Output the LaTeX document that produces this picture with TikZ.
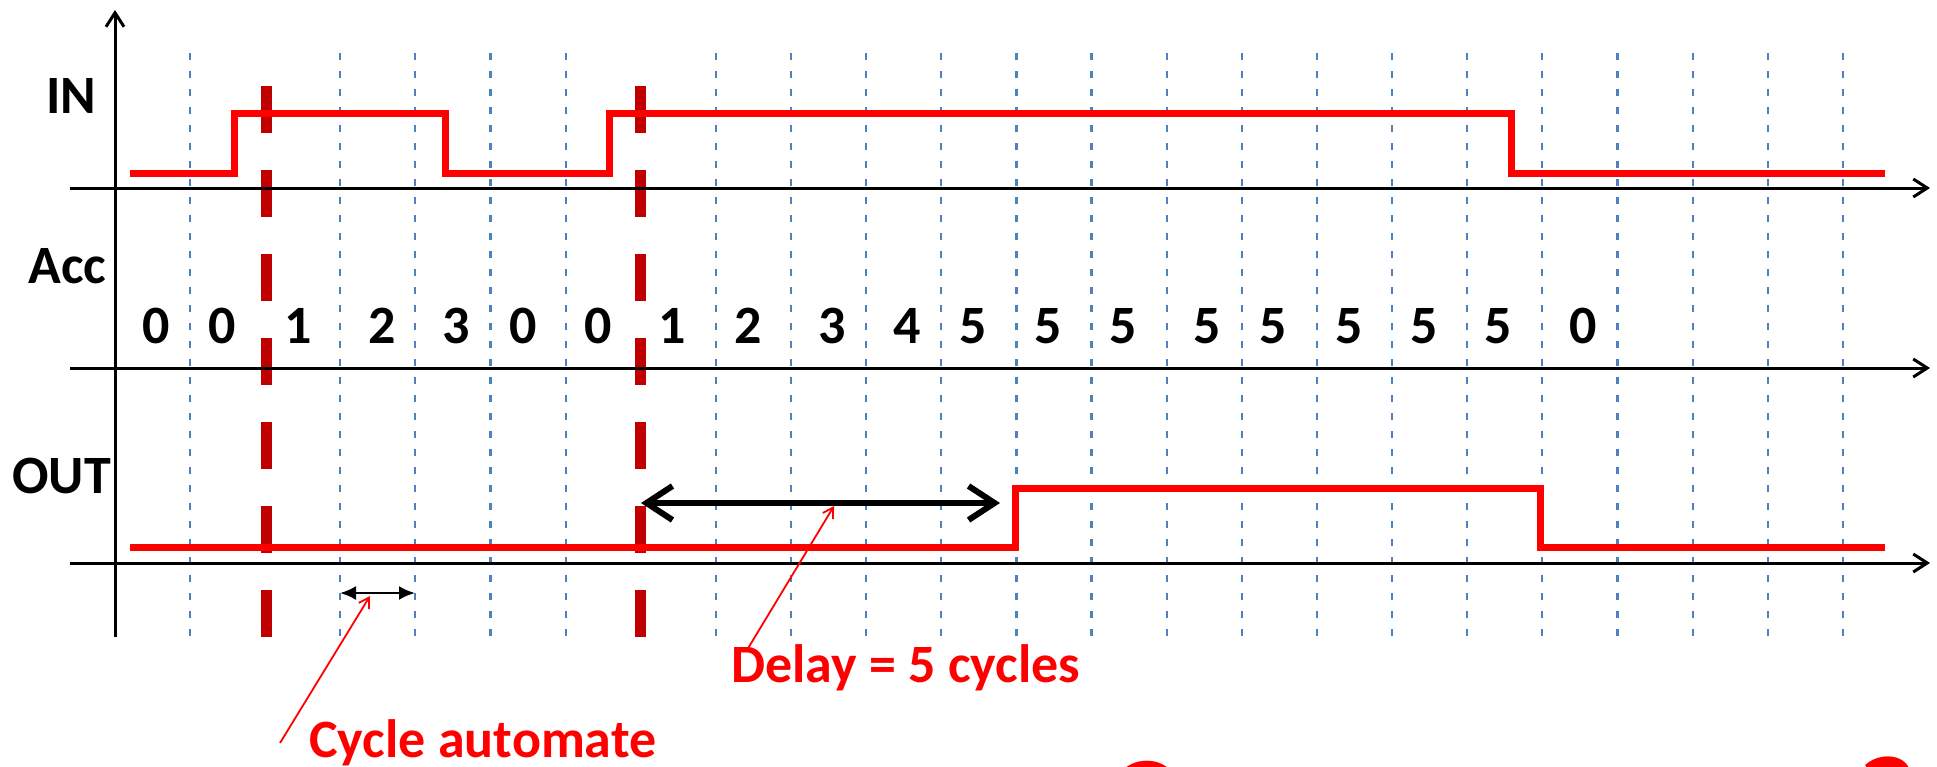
\documentclass[tikz,border=0pt]{standalone}
\usepackage{fontspec}
\setmainfont{Carlito}
\usetikzlibrary{arrows.meta}
\definecolor{sigred}{HTML}{FF0000}
\definecolor{cutred}{HTML}{C00000}
\definecolor{gridblue}{HTML}{4F81BD}
\tikzset{
  axis/.style={black, line width=1.5pt, -{Straight Barb[length=7pt,width=9pt]}},
  gridline/.style={gridblue, line width=1.1pt, dash pattern=on 3.5pt off 5.5pt},
  cutline/.style={cutred, line width=5.5pt, dash pattern=on 23.5pt off 18.5pt},
  signal/.style={sigred, line width=3.5pt},
  lbl/.style={inner sep=0pt, font=\fontsize{27}{30}\selectfont\bfseries},
  note/.style={lbl, text=sigred},
  callout/.style={sigred, line width=0.9pt, -{Straight Barb[length=5pt,width=6pt]}},
}

\begin{document}
\begin{tikzpicture}[x=0.5pt, y=-0.5pt]
\useasboundingbox (0,0) rectangle (1937,766);
% grid of cycles
\foreach \k in {0,2,3,4,5,7,8,...,22}{
	\draw[gridline](190+75.13*\k,53)--(190+75.13*\k,637);
}
\foreach \x in {266,640}{
	\draw[cutline](\x,86)--(\x,637);
}
% axes
\draw[axis](115,637)--(115,10);
\foreach \y in {188,368,563}{
	\draw[axis](70,\y)--(1930,\y);
}
% labels
\node[lbl, anchor=base west] (lblIN) at (46,113) {IN};
\node[lbl, anchor=base west] (lblAcc) at (28,283) {Acc};
\node[lbl, anchor=base west] (lblOUT) at (12,493) {OUT};
\foreach \v/\x [count=\i] in {0/156,0/222,1/298,2/382,3/456,0/523,0/598,1/672,2/748,3/832,4/907,5/973,5/1048,5/1123,5/1207,5/1273,5/1349,5/1424,5/1498,0/1583}{
	\node[lbl, anchor=base] (acc\i) at (\x,343) {\v};
}
% signals
\draw[signal](130,173)--(234,173)--(234,113)--(445,113)--(445,173)--(609,173)--(609,113)--(1511,113)--(1511,173)--(1885,173);
\draw[signal](130,547)--(1015,547)--(1015,488)--(1540,488)--(1540,547)--(1885,547);
% delay and cycle
\coordinate (dlyA) at (641,503);
\coordinate (dlyB) at (1000,503);
\draw[black, line width=3pt, line cap=round, line join=round, {Straight Barb[length=13pt,width=17pt]}-{Straight Barb[length=13pt,width=17pt]}](dlyA)--(dlyB);
\coordinate (cycA) at (340,593);
\coordinate (cycB) at (415,593);
\draw[black, line width=1.2pt, {Latex[length=8pt,width=7pt]}-{Latex[length=8pt,width=7pt]}](cycA)--(cycB);
% notes
\node[note, anchor=base west] (cycNote) at (309,757) {Cycle automate};
\node[note, anchor=base west] (dlyNote) at (731,682) {Delay = 5 cycles};
\coordinate (cycFoot) at (280,743);
\coordinate (cycTip) at (370,596);
\coordinate (dlyFoot) at (747,650);
\coordinate (dlyTip) at (834,506);
\draw[callout](cycFoot)--(cycTip);
\draw[callout](dlyFoot)--(dlyTip);
% cut text at the bottom edge
\begin{scope}
\clip (0,0) rectangle (1937,766);
\node[note, anchor=base, font=\fontsize{62}{70}\selectfont\bfseries] (cutA) at (1141,842) {C};
\node[note, anchor=base, font=\fontsize{62}{70}\selectfont\bfseries] (cutB) at (1888,842) {?};
\end{scope}
\end{tikzpicture}
\end{document}
